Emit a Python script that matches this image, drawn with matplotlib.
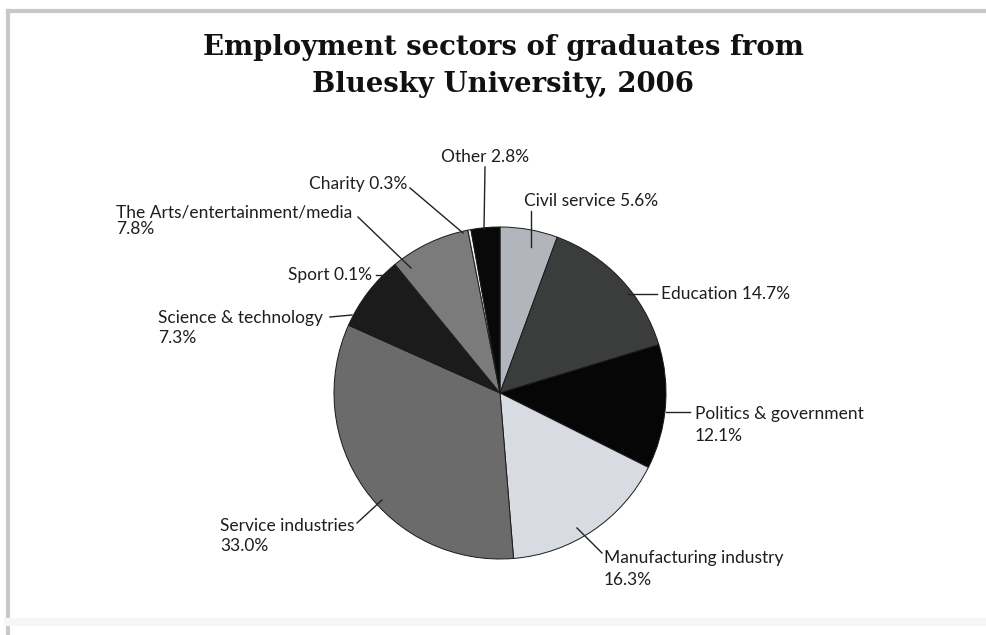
import matplotlib
matplotlib.use("Agg")
import matplotlib.pyplot as plt
from matplotlib.lines import Line2D

# sectors, clockwise from 12 o'clock
sectors = ["Civil service", "Education", "Politics & government",
           "Manufacturing industry", "Service industries",
           "Science & technology", "Sport", "The Arts/entertainment/media",
           "Charity", "Other"]
shares = [5.6, 14.7, 12.1, 16.3, 33.0, 7.3, 0.1, 7.8, 0.3, 2.8]
shades = ["#b3b5bc", "#3b3d3d", "#060606", "#d9dbe3", "#6b6b6b",
          "#1b1b1b", "#e8e8e8", "#7b7b7b", "#f4f4f4", "#090909"]

W, H = 987, 635
CX, CY, R = 500, 393, 166

fig = plt.figure(figsize=(W / 100, H / 100), dpi=100)
fig.patch.set_facecolor("white")

ax = fig.add_axes([(CX - R) / W, (H - CY - R) / H, 2 * R / W, 2 * R / H])
ax.pie(shares, colors=shades, startangle=90, counterclock=False,
       radius=1.0, wedgeprops=dict(edgecolor="#1a1a1a", linewidth=0.7))
ax.set_xlim(-1, 1)
ax.set_ylim(-1, 1)
ax.set_aspect("equal")
ax.axis("off")


def px(x, y):
    # pixel position -> data coords of the pie axes
    return ((x - CX) / R, (CY - y) / R)


# label text, text anchor (px), alignment, line spacing, leader line (px)
labels = [
    ("Civil service 5.6%", (524, 201), "left", 1.2, (531, 211), (531, 247)),
    ("Education 14.7%", (661, 294), "left", 1.2, (657, 294), (628, 294)),
    ("Politics & government\n12.1%", (695, 425), "left", 1.45, (690, 412), (666, 412)),
    ("Manufacturing industry\n16.3%", (604, 569), "left", 1.4, (602, 553), (577, 528)),
    ("Service industries\n33.0%", (220, 536), "left", 1.38, (357, 523), (382, 500)),
    ("Science & technology\n7.3%", (158, 328), "left", 1.38, (330, 317), (352, 315)),
    ("Sport 0.1%", (372, 275), "right", 1.2, (376, 275), (389, 275)),
    ("The Arts/entertainment/media\n7.8%", (116, 221), "left", 1.02, (358, 217), (411, 268)),
    ("Charity 0.3%", (407, 184), "right", 1.2, (410, 188), (463, 233)),
    ("Other 2.8%", (485, 157), "center", 1.2, (485, 167), (484, 229)),
]

for text, pos, ha, ls, p0, p1 in labels:
    tx, ty = px(*pos)
    ax.text(tx, ty, text, ha=ha, va="center", fontsize=12.5,
            family="Lato", color="#1e1e1e", linespacing=ls)
    x0, y0 = px(*p0)
    x1, y1 = px(*p1)
    ax.add_line(Line2D([x0, x1], [y0, y1], color="#222222", lw=1.0,
                       clip_on=False))

fig.text(0.51, 1 - 66 / H, "Employment sectors of graduates from\nBluesky University, 2006",
         ha="center", va="center", fontsize=19.8, fontweight="bold",
         family="DejaVu Serif", color="#111111", linespacing=1.45)

# page edge shadow along the top and left
fig.add_artist(Line2D([8 / W, 1.0], [1 - 11 / H, 1 - 11 / H],
                      transform=fig.transFigure, color="#c8c8c8", lw=3))
fig.add_artist(Line2D([8 / W, 8 / W], [0, 1 - 11 / H],
                      transform=fig.transFigure, color="#c8c8c8", lw=3))
fig.add_artist(Line2D([8 / W, 1.0], [1 - 622 / H, 1 - 622 / H],
                      transform=fig.transFigure, color="#f6f6f6", lw=6))

fig.savefig("out.png", dpi=100, facecolor="white")
